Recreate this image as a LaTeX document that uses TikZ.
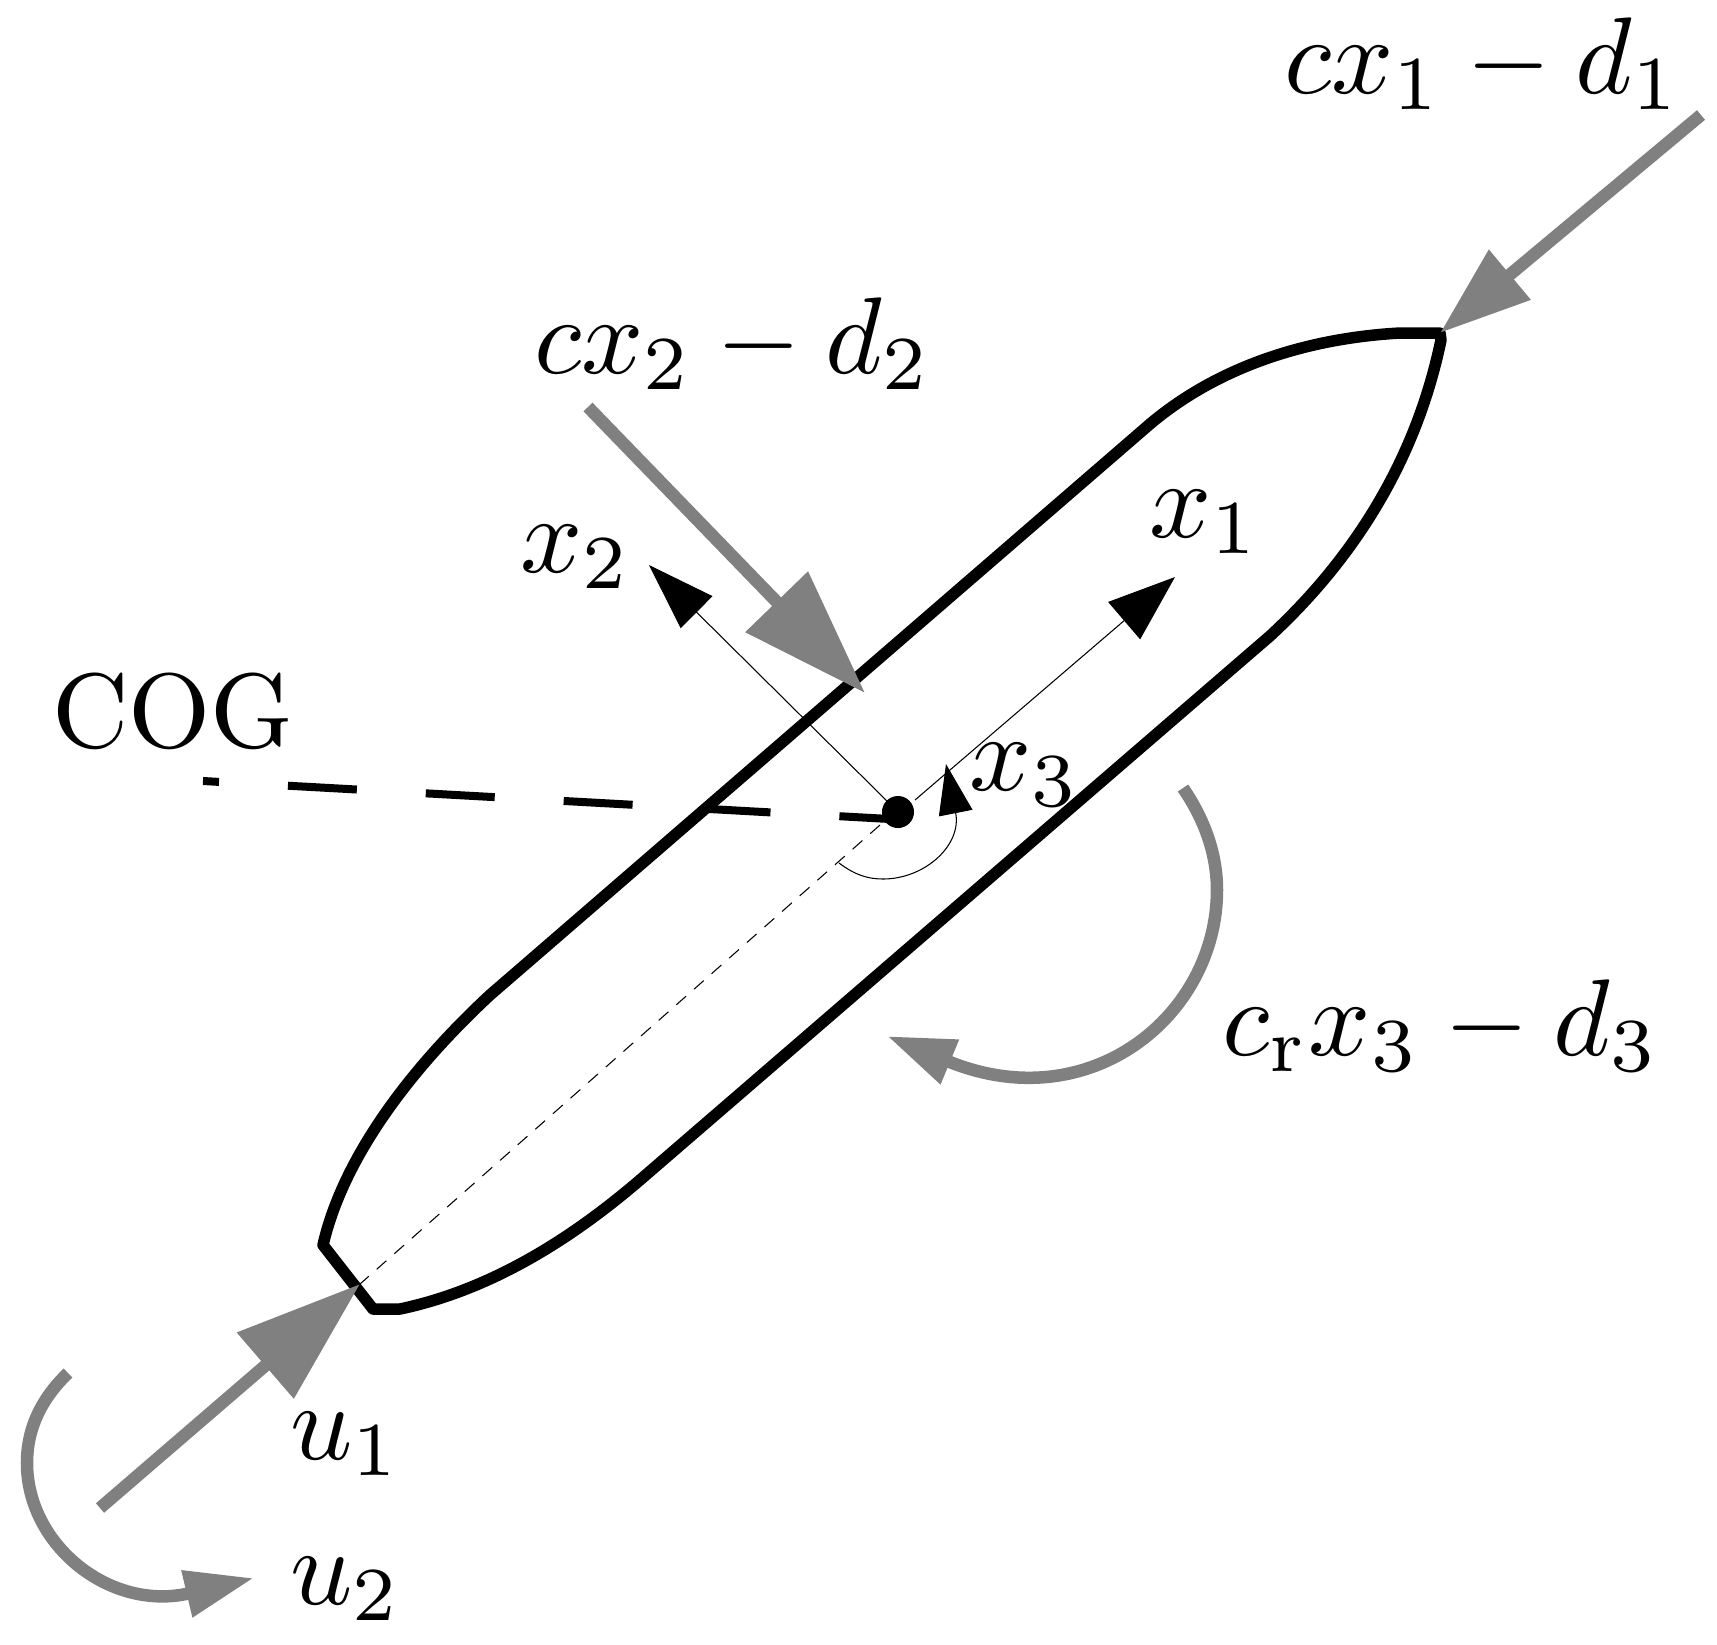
\documentclass[tikz,border=0pt]{standalone}
\usepackage{amsmath}
\usetikzlibrary{arrows.meta}
\definecolor{forcegray}{RGB}{128,128,128}

\begin{document}
\begin{tikzpicture}[x=0.01cm, y=-0.01cm,
    lbl/.style={scale=3.1, inner sep=0, anchor=base west},
    hull/.style={line width=0.115cm, line join=round},
    axis/.style={line width=0.3pt},
    force/.style={forcegray, line width=0.125cm},
    ]
    \useasboundingbox (0,0) rectangle (1717,1644);

    \coordinate (cog) at (898,812);
    \coordinate (stern) at (360,1284);
    \coordinate (bow) at (1440,333);
    \coordinate (x1s) at (915,800);
    \coordinate (x1e) at (1175,577);
    \coordinate (x2s) at (888,802);
    \coordinate (x2e) at (649,565);
    \coordinate (x3s) at (839,863);
    \coordinate (x3e) at (946,764);
    \coordinate (cogs) at (203,781);
    \coordinate (coge) at (890,819);
    \coordinate (mids) at (880,825);
    \coordinate (f1s) at (1701,115);
    \coordinate (f2s) at (588,407);
    \coordinate (f2e) at (865,693);
    \coordinate (f3s) at (1183,788);
    \coordinate (f3e) at (887,1036);
    \coordinate (u1s) at (100,1508);
    \coordinate (u2s) at (68,1373);
    \coordinate (u2e) at (254,1578);

    \draw [hull] (bow) -- (1400,333) .. controls (1310,338) and (1220,365) .. (1150,424)
        -- (490,995) .. controls (420,1060) and (345,1150) .. (323,1245)
        -- (373,1309) -- (400,1309) .. controls (490,1290) and (570,1240) .. (640,1180)
        -- (1270,636) .. controls (1350,562) and (1415,465) .. (1441,340) -- cycle;

    \draw [axis, dash pattern=on 0.13cm off 0.105cm] (mids) -- (stern);
    \draw [axis, -{Triangle[length=0.67cm, width=0.49cm]}] (x1s) -- (x1e);
    \draw [axis, -{Triangle[length=0.67cm, width=0.45cm]}] (x2s) -- (x2e);
    \draw [axis, -{Triangle[length=0.5cm, width=0.34cm]}] (x3s) .. controls (855,875) and (868,879) .. (883,879)
        .. controls (925,879) and (962,845) .. (x3e);
    \draw [line width=0.08cm, dash pattern=on 0.69cm off 0.69cm, dash phase=0.53cm] (cogs) -- (coge);
    \fill (cog) circle (0.16cm);

    \draw [force, -{Triangle[length=0.91cm, width=0.62cm]}] (f1s) -- (bow);
    \draw [force, -{Triangle[length=1.27cm, width=0.84cm]}] (f2s) -- (f2e);
    \draw [force, -{Triangle[length=0.68cm, width=0.45cm]}] (f3s) .. controls (1205,820) and (1217,855) .. (1217,890)
        .. controls (1217,1015) and (1090,1120) .. (f3e);
    \draw [force, -{Triangle[length=1.25cm, width=0.84cm]}] (u1s) -- (stern);
    \draw [force, -{Triangle[length=0.69cm, width=0.45cm]}] (u2s) .. controls (40,1400) and (27,1430) .. (27,1463)
        .. controls (27,1545) and (110,1612) .. (u2e);

    \node [lbl] (lf1) at (1282,93) {$cx_1-d_1$};
    \node [lbl] (lf2) at (532,373) {$cx_2-d_2$};
    \node [lbl] (lf3) at (1220,1055) {$c_{\mathrm{r}}x_3-d_3$};
    \node [lbl] (lx1) at (1147,537) {$x_1$};
    \node [lbl] (lx2) at (518,572) {$x_2$};
    \node [lbl] (lx3) at (967,790) {$x_3$};
    \node [lbl, scale=0.97] (lcog) at (50,747) {COG};
    \node [lbl] (lu1) at (288,1459) {$u_1$};
    \node [lbl] (lu2) at (288,1604) {$u_2$};
\end{tikzpicture}
\end{document}
